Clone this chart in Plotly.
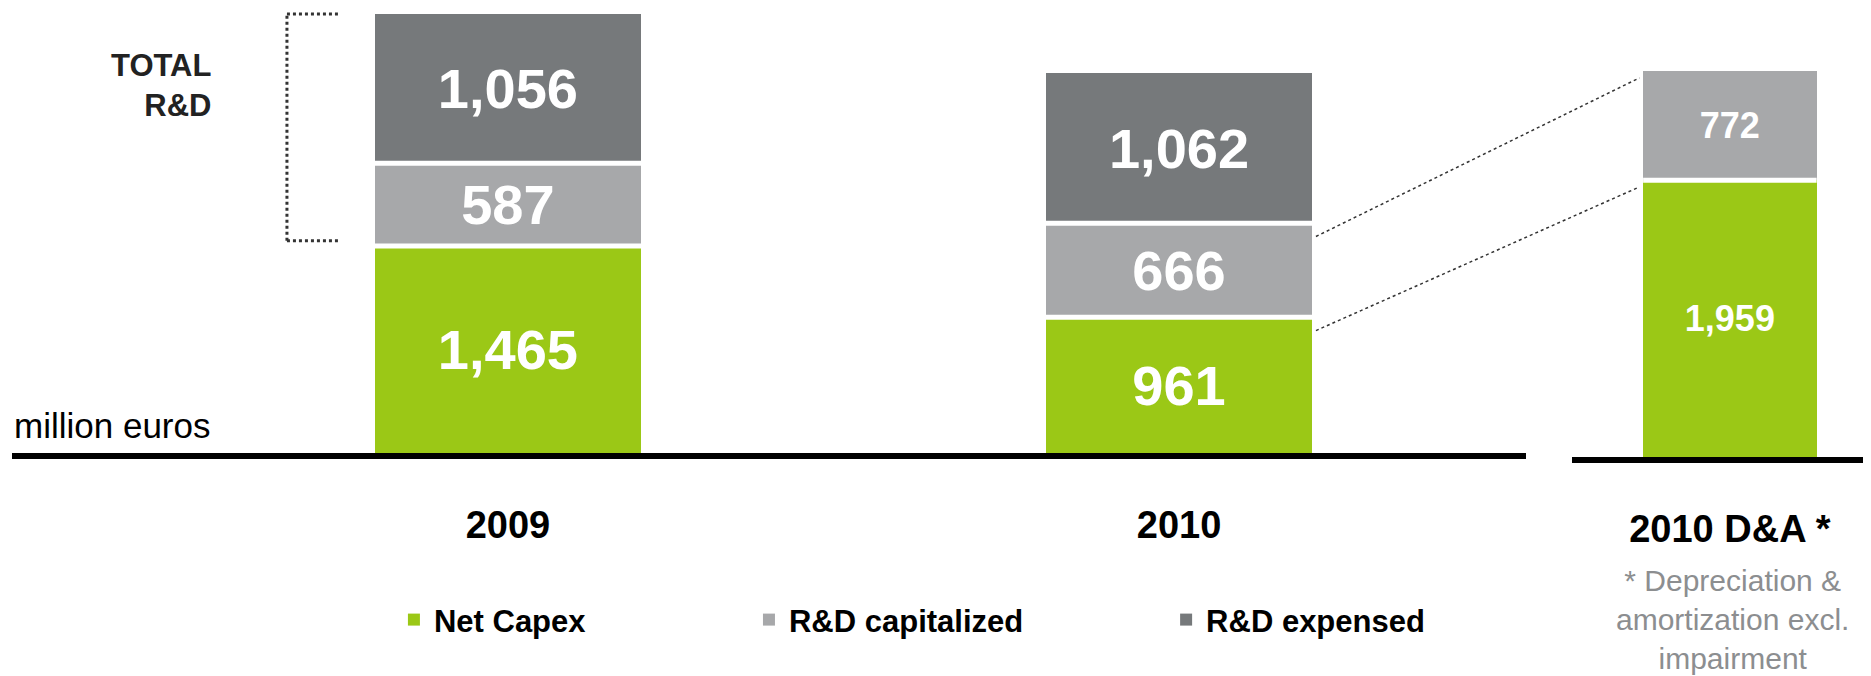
import plotly.graph_objects as go


years = ["2009", "2010"]
da_category = ["2010 D&A *"]
net_capex = [1465, 961]
rd_capitalized = [587, 666]
rd_expensed = [1056, 1062]
da_net_capex = [1959]
da_rd_capitalized = [772]
legend_names = ["Net Capex", "R&D capitalized", "R&D expensed"]
footnote = "* Depreciation &<br>amortization excl.<br>impairment"

GREEN = "#9bc816"
LIGHT_GREY = "#a7a8aa"
DARK_GREY = "#76797b"
FONT = "Liberation Sans, Arial, sans-serif"

X1_DOMAIN = [0, 0.8166]
X2_DOMAIN = [0.8414, 1]
X1_RANGE = [-0.739, 1.517]
X2_RANGE = [-0.537, 0.463]
Y_RANGE = [0, 3115]
Y1_DOMAIN = [4 / 444, 1]
Y2_DOMAIN = [0, 440 / 444]
BAR_W = 0.397
DA_W = 0.59


def x_paper(x, domain, rng):
    return domain[0] + (x - rng[0]) / (rng[1] - rng[0]) * (domain[1] - domain[0])


def y_paper(v, domain):
    return domain[0] + (v - Y_RANGE[0]) / (Y_RANGE[1] - Y_RANGE[0]) * (domain[1] - domain[0])


def bar_trace(x, values, name, color, width, size, xaxis, yaxis, **kw):
    return go.Bar(
        x=x,
        y=values,
        name=name,
        width=width,
        marker={"color": color, "line": {"width": 0}},
        texttemplate="%{y:,}",
        textposition="inside",
        insidetextanchor="middle",
        constraintext="none",
        textfont={"family": FONT, "size": size, "color": "white", "weight": "bold"},
        xaxis=xaxis,
        yaxis=yaxis,
        **kw,
    )


fig = go.Figure()

main_series = [net_capex, rd_capitalized, rd_expensed]
colors = [GREEN, LIGHT_GREY, DARK_GREY]
legends = ["legend", "legend2", "legend3"]
for name, values, color, legend in zip(legend_names, main_series, colors, legends):
    fig.add_trace(bar_trace(years, values, name, color, BAR_W, 56, "x", "y", legend=legend))

for name, values, color in zip(legend_names, [da_net_capex, da_rd_capitalized], colors):
    fig.add_trace(bar_trace(da_category, values, name, color, DA_W, 36, "x2", "y2", showlegend=False))

# white separators between stacked segments
for i in range(len(years)):
    for level in [net_capex[i], net_capex[i] + rd_capitalized[i]]:
        fig.add_shape(
            type="line", xref="x", yref="y",
            x0=i - BAR_W / 2, x1=i + BAR_W / 2, y0=level, y1=level,
            line={"color": "white", "width": 5},
        )
fig.add_shape(
    type="line", xref="x2", yref="y2",
    x0=-DA_W / 2, x1=DA_W / 2, y0=da_net_capex[0], y1=da_net_capex[0],
    line={"color": "white", "width": 5},
)

axis_common = dict(
    type="category",
    showline=True,
    linecolor="black",
    linewidth=6,
    showgrid=False,
    ticks="",
    ticklabelstandoff=33,
    tickfont={"family": FONT, "size": 38, "color": "black", "weight": "bold"},
    fixedrange=True,
)
fig.update_layout(
    xaxis=dict(domain=X1_DOMAIN, range=X1_RANGE, anchor="y", **axis_common),
    xaxis2=dict(domain=X2_DOMAIN, range=X2_RANGE, anchor="y2", **axis_common),
    yaxis=dict(domain=Y1_DOMAIN, range=Y_RANGE, visible=False, anchor="x"),
    yaxis2=dict(domain=Y2_DOMAIN, range=Y_RANGE, visible=False, anchor="x2"),
)

# dotted connectors from the 2010 bar to the D&A bar
x_start = x_paper(1 + BAR_W / 2, X1_DOMAIN, X1_RANGE)
x_end = x_paper(-DA_W / 2, X2_DOMAIN, X2_RANGE)
pairs = [
    (net_capex[1], da_net_capex[0]),
    (net_capex[1] + rd_capitalized[1], da_net_capex[0] + da_rd_capitalized[0]),
]
for v0, v1 in pairs:
    fig.add_shape(
        type="line",
        xref="paper",
        yref="paper",
        x0=x_start + 0.002,
        y0=y_paper(v0, Y1_DOMAIN) - 0.03,
        x1=x_end - 0.002,
        y1=y_paper(v1, Y2_DOMAIN) - 0.015,
        line={"color": "#333333", "width": 1.5, "dash": "dot"},
    )

# dotted bracket marking total R&D of 2009
bracket_x0 = 0.1483
bracket_x1 = 0.1758
rd_bottom = y_paper(net_capex[0], Y1_DOMAIN) + 0.012
rd_top = y_paper(net_capex[0] + rd_capitalized[0] + rd_expensed[0], Y1_DOMAIN)
for x0, y0, x1, y1 in [
    (bracket_x0, rd_bottom, bracket_x0, rd_top),
    (bracket_x0, rd_top, bracket_x1, rd_top),
    (bracket_x0, rd_bottom, bracket_x1, rd_bottom),
]:
    fig.add_shape(
        type="line",
        xref="paper",
        yref="paper",
        x0=x0,
        y0=y0,
        x1=x1,
        y1=y1,
        line={"color": "#333333", "width": 3, "dash": "dot"},
    )

fig.add_annotation(
    text="TOTAL<br>R&D",
    xref="paper",
    yref="paper",
    x=0.1084,
    y=0.836,
    xanchor="right",
    yanchor="middle",
    align="right",
    showarrow=False,
    font={"family": FONT, "size": 31, "color": "#222222", "weight": "bold"},
)
fig.add_annotation(
    text="million euros",
    xref="paper",
    yref="paper",
    x=0,
    y=0.07,
    xanchor="left",
    yanchor="middle",
    showarrow=False,
    font={"family": FONT, "size": 35, "color": "black"},
)
fig.add_annotation(
    text=footnote,
    xref="paper",
    yref="paper",
    x=0.928,
    y=-0.366,
    xanchor="center",
    yanchor="middle",
    align="center",
    showarrow=False,
    font={"family": FONT, "size": 30, "color": "#8c8e90"},
)

legend_style = dict(
    orientation="h",
    yref="paper",
    y=-0.367,
    yanchor="middle",
    xanchor="left",
    bgcolor="rgba(0,0,0,0)",
    font={"family": FONT, "size": 31, "color": "black", "weight": "bold"},
)
fig.update_layout(
    legend=dict(x=0.206, **legend_style),
    legend2=dict(x=0.3975, **legend_style),
    legend3=dict(x=0.6225, **legend_style),
)

# the page body adds an 8px offset, so the margins are shifted to compensate
fig.update_layout(
    barmode="stack",
    width=1871,
    height=676,
    margin={"l": 4, "r": 13, "t": 5, "b": 227},
    paper_bgcolor="white",
    plot_bgcolor="white",
    font={"family": FONT},
)

fig.write_html("out.html")
